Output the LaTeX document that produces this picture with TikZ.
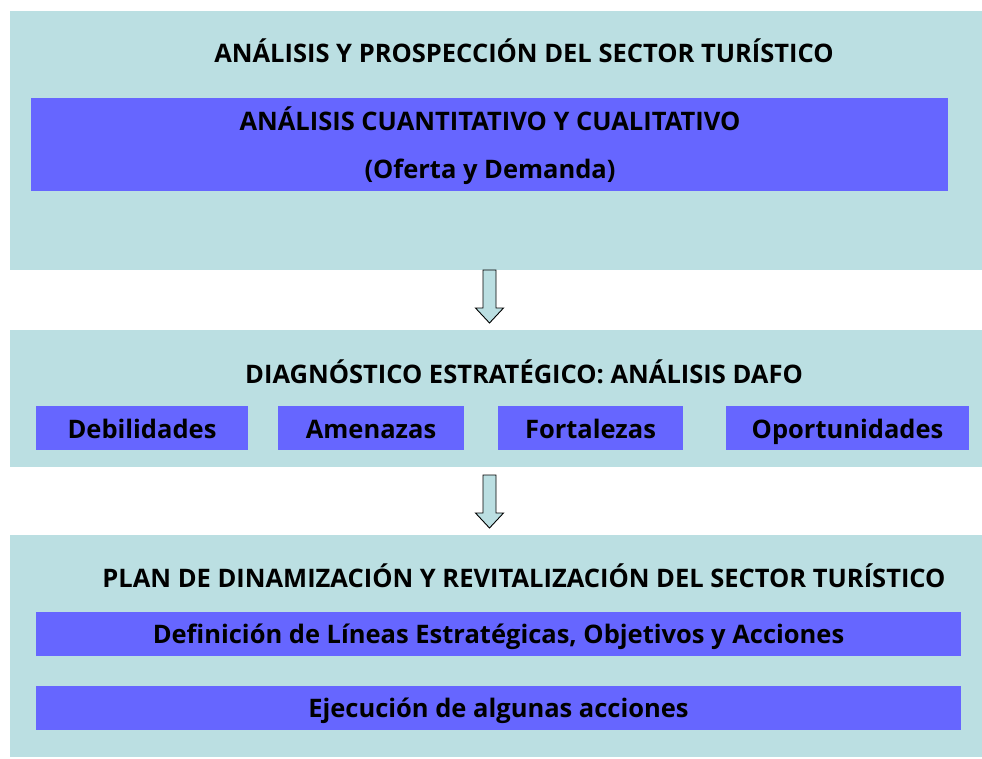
\documentclass[tikz,border=0pt]{standalone}
\usepackage{fontspec}
\setmainfont{Open Sans}
\definecolor{pale}{HTML}{BBDFE2}
\definecolor{vio}{HTML}{6666FF}
\begin{document}
\begin{tikzpicture}[x=1pt,y=-1pt,
  panel/.style={fill=pale,draw=none},
  inbox/.style={fill=vio,draw=none},
  lbl/.style={font=\bfseries\fontsize{25.5}{30}\selectfont,text=black,inner sep=0pt,anchor=base},
  blockarrow/.style={draw=black,fill=pale,line width=0.9pt,line join=miter}]
\useasboundingbox (0,0) rectangle (982,758);
% panels
\fill[panel] (10,11) rectangle (982,270);
\fill[panel] (10,330) rectangle (982,467);
\fill[panel] (10,535) rectangle (982,757);
% panel 1
\node[lbl] (t1) at (524,62) {ANÁLISIS Y PROSPECCIÓN DEL SECTOR TURÍSTICO};
\fill[inbox] (31,98) rectangle (948,191);
\node[lbl] (t1a) at (490,130) {ANÁLISIS CUANTITATIVO Y CUALITATIVO};
\node[lbl] (t1b) at (490,178) {(Oferta y Demanda)};
% panel 2
\node[lbl] (t2) at (524,383) {DIAGNÓSTICO ESTRATÉGICO: ANÁLISIS DAFO};
\fill[inbox] (36,406) rectangle (248,450);
\fill[inbox] (278,406) rectangle (464,450);
\fill[inbox] (498,406) rectangle (683,450);
\fill[inbox] (726,406) rectangle (969,450);
\node[lbl] (d1) at (142,438) {Debilidades};
\node[lbl] (d2) at (371,438) {Amenazas};
\node[lbl] (d3) at (590.5,438) {Fortalezas};
\node[lbl] (d4) at (847.5,438) {Oportunidades};
% panel 3
\node[lbl] (t3) at (524,587) {PLAN DE DINAMIZACIÓN Y REVITALIZACIÓN DEL SECTOR TURÍSTICO};
\fill[inbox] (36,612) rectangle (961,656);
\fill[inbox] (36,686) rectangle (961,730);
\node[lbl] (p1) at (498.5,643) {Definición de Líneas Estratégicas, Objetivos y Acciones};
\node[lbl] (p2) at (498.5,717) {Ejecución de algunas acciones};
% arrows
\coordinate (a1) at (489.5,270);
\coordinate (a2) at (489.5,475);
\foreach \c in {a1,a2}{
  \draw[blockarrow] (\c) ++(-6.5,0) -- ++(13,0) -- ++(0,38) -- ++(7.5,0) -- ++(-14,15) -- ++(-14,-15) -- ++(7.5,0) -- cycle;
}
\end{tikzpicture}
\end{document}
